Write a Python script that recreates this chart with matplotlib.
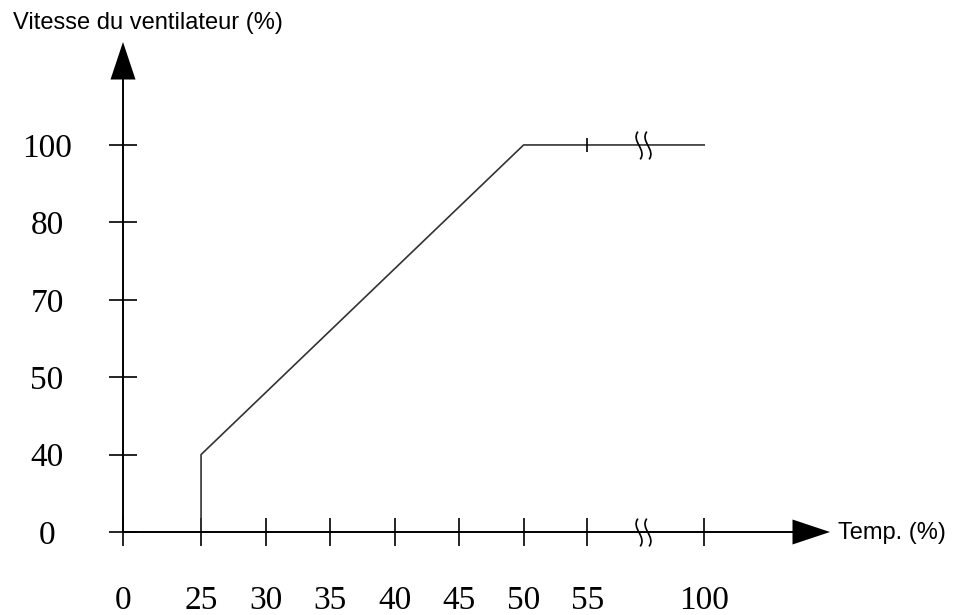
import matplotlib.pyplot as plt
import numpy as np
from matplotlib.path import Path


# 坐标轴刻度（示意图，刻度不是线性的）
x_tick_values = [0, 25, 30, 35, 40, 45, 50, 55, 100]
x_tick_labels = ["0", "25", "30", "35", "40", "45", "50", "55", "100"]
y_tick_values = [0, 40, 50, 70, 80, 100]
y_tick_labels = ["0", "40", "50", "70", "80", "100"]

# 风扇转速曲线
temp_values = [25, 25, 50, 100]
speed_values = [0, 40, 100, 100]

# 折线上的额外刻度
line_tick_temp = 55
line_tick_speed = 100

# 布局：刻度在图上的位置（示意比例）
X_TICK_POS = [0, 1.21, 2.21, 3.21, 4.21, 5.21, 6.21, 7.2, 9.01]
Y_TICK_POS = [0, 1, 2, 3, 4, 5]
X_BREAK_POS = 8.06
X_MAX = 10.96
Y_MAX = 6.33


def to_x(values):
    return np.interp(values, x_tick_values, X_TICK_POS)


def to_y(values):
    return np.interp(values, y_tick_values, Y_TICK_POS)


def break_marker():
    """
    断轴符号：两条竖向的 S 形曲线。
    """
    verts = []
    codes = []
    for dx in (-0.16, 0.16):
        verts += [(dx - 0.04, 0.5), (dx - 0.3, 0.15), (dx + 0.3, -0.15),
                  (dx + 0.04, -0.5)]
        codes += [Path.MOVETO, Path.CURVE4, Path.CURVE4, Path.CURVE4]
    return Path(verts, codes)


def draw_axes_arrows(ax):
    arrow = dict(facecolor="black", edgecolor="none", linewidth=0, width=1.4,
                 headwidth=18, headlength=27, shrink=0)
    ax.annotate("", xy=(1, 0), xytext=(0, 0), xycoords="axes fraction",
                arrowprops=arrow, annotation_clip=False)
    ax.annotate("", xy=(0, 1), xytext=(0, 0), xycoords="axes fraction",
                arrowprops=arrow, annotation_clip=False)


def main():
    fig = plt.figure(figsize=(9.63, 6.15), dpi=100)
    ax = fig.add_axes([123 / 963, 83 / 615, 707 / 963, 490 / 615])
    ax.set_xlim(0, X_MAX)
    ax.set_ylim(0, Y_MAX)
    for spine in ax.spines.values():
        spine.set_visible(False)

    draw_axes_arrows(ax)

    # 刻度
    ax.set_xticks(X_TICK_POS, x_tick_labels)
    ax.set_yticks(Y_TICK_POS, y_tick_labels)
    ax.tick_params(axis="both", direction="inout", length=19.5, width=1.2,
                   labelsize=24, colors="black")
    ax.tick_params(axis="x", pad=29)
    ax.tick_params(axis="y", pad=45)
    for label in ax.get_xticklabels() + ax.get_yticklabels():
        label.set_family("Liberation Serif")
    for label in ax.get_yticklabels():
        label.set_ha("center")

    # 转速曲线
    ax.plot(to_x(temp_values), to_y(speed_values), color="#333333",
            linewidth=1.2, clip_on=False)
    ax.plot(to_x([line_tick_temp]), to_y([line_tick_speed]), marker="|",
            markersize=10, markeredgewidth=1.2, color="black", clip_on=False)

    # 断轴符号
    ax.plot([X_BREAK_POS, X_BREAK_POS], [0, to_y(line_tick_speed)],
            linestyle="none", marker=break_marker(), markersize=20,
            markerfacecolor="none", markeredgecolor="black",
            markeredgewidth=1.2, clip_on=False)

    # 坐标轴名称
    fig.text(13 / 963, 1 - 23 / 615, "Vitesse du ventilateur (%)",
             ha="left", va="center", fontsize=17, family="Liberation Sans")
    fig.text(838 / 963, 1 - 533 / 615, "Temp. (%)",
             ha="left", va="center", fontsize=17, family="Liberation Sans")

    fig.savefig("out.png", dpi=100)
    plt.close(fig)


if __name__ == "__main__":
    main()
